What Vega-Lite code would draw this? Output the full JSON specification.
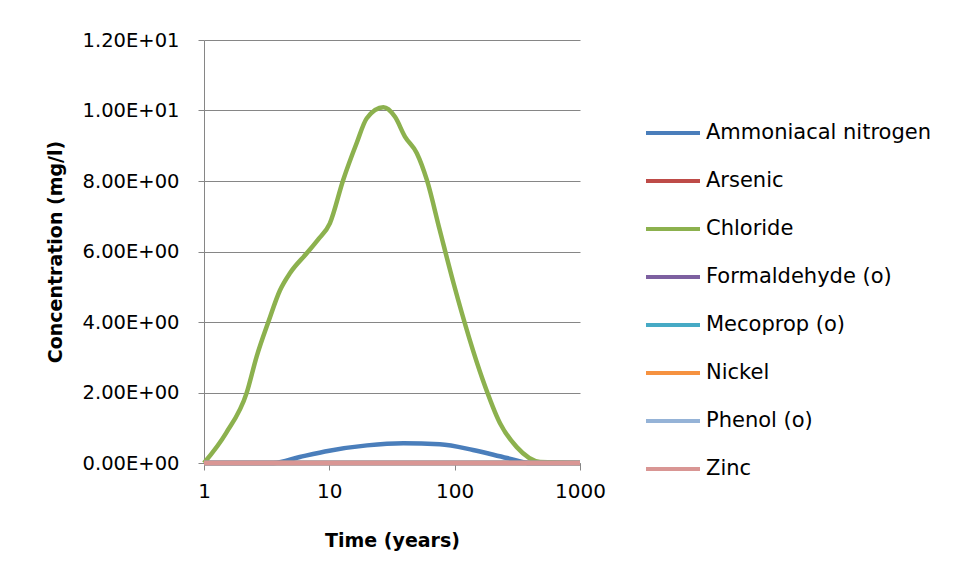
{
  "$schema": "https://vega.github.io/schema/vega-lite/v6.json",
  "width": 376,
  "height": 423,
  "autosize": {"type": "none"},
  "padding": {"left": 204, "top": 40, "right": 373, "bottom": 118},
  "background": "white",
  "config": {
    "font": "DejaVu Sans",
    "view": {"stroke": null},
    "axis": {"labelFont": "DejaVu Sans", "titleFont": "DejaVu Sans", "labelColor": "#000000", "titleColor": "#000000"}
  },
  "data": {
    "values": [
      {"series": "Ammoniacal nitrogen", "t": 1, "c": 0},
      {"series": "Ammoniacal nitrogen", "t": 3.6, "c": 0},
      {"series": "Ammoniacal nitrogen", "t": 5.8, "c": 0.17},
      {"series": "Ammoniacal nitrogen", "t": 10, "c": 0.35},
      {"series": "Ammoniacal nitrogen", "t": 20, "c": 0.5},
      {"series": "Ammoniacal nitrogen", "t": 39, "c": 0.56},
      {"series": "Ammoniacal nitrogen", "t": 76, "c": 0.53},
      {"series": "Ammoniacal nitrogen", "t": 140, "c": 0.37},
      {"series": "Ammoniacal nitrogen", "t": 262, "c": 0.14},
      {"series": "Ammoniacal nitrogen", "t": 400, "c": 0},
      {"series": "Ammoniacal nitrogen", "t": 1000, "c": 0},
      {"series": "Arsenic", "t": 1, "c": 0},
      {"series": "Arsenic", "t": 1000, "c": 0},
      {"series": "Chloride", "t": 1, "c": 0},
      {"series": "Chloride", "t": 1.5, "c": 0.85},
      {"series": "Chloride", "t": 2.19, "c": 1.99},
      {"series": "Chloride", "t": 2.63, "c": 3.02},
      {"series": "Chloride", "t": 3.26, "c": 4.0},
      {"series": "Chloride", "t": 4.04, "c": 4.9},
      {"series": "Chloride", "t": 4.86, "c": 5.39},
      {"series": "Chloride", "t": 6.6, "c": 5.95},
      {"series": "Chloride", "t": 8.1, "c": 6.33},
      {"series": "Chloride", "t": 10.1, "c": 6.8},
      {"series": "Chloride", "t": 12.9, "c": 8.03},
      {"series": "Chloride", "t": 16.5, "c": 9.07},
      {"series": "Chloride", "t": 19.9, "c": 9.78},
      {"series": "Chloride", "t": 27, "c": 10.09},
      {"series": "Chloride", "t": 33.4, "c": 9.82},
      {"series": "Chloride", "t": 40.1, "c": 9.26},
      {"series": "Chloride", "t": 49.9, "c": 8.79},
      {"series": "Chloride", "t": 60, "c": 8.03},
      {"series": "Chloride", "t": 76, "c": 6.61},
      {"series": "Chloride", "t": 98, "c": 5.1},
      {"series": "Chloride", "t": 168, "c": 2.35},
      {"series": "Chloride", "t": 230, "c": 1.13},
      {"series": "Chloride", "t": 313, "c": 0.45},
      {"series": "Chloride", "t": 480, "c": 0.03},
      {"series": "Chloride", "t": 1000, "c": 0},
      {"series": "Formaldehyde (o)", "t": 1, "c": 0},
      {"series": "Formaldehyde (o)", "t": 1000, "c": 0},
      {"series": "Mecoprop (o)", "t": 1, "c": 0},
      {"series": "Mecoprop (o)", "t": 1000, "c": 0},
      {"series": "Nickel", "t": 1, "c": 0},
      {"series": "Nickel", "t": 1000, "c": 0},
      {"series": "Phenol (o)", "t": 1, "c": 0},
      {"series": "Phenol (o)", "t": 1000, "c": 0},
      {"series": "Zinc", "t": 1, "c": 0},
      {"series": "Zinc", "t": 1000, "c": 0}
    ]
  },
  "mark": {"type": "line", "strokeWidth": 4.5, "interpolate": "monotone", "clip": false},
  "encoding": {
    "x": {
      "field": "t", "type": "quantitative",
      "scale": {"type": "log", "domain": [1, 1000], "nice": false},
      "axis": {
        "values": [1, 10, 100, 1000], "format": "d",
        "title": "Time (years)", "titleFontSize": 19, "titleFontWeight": "bold", "titlePadding": 30,
        "labelFontSize": 20, "labelPadding": 11, "labelFontWeight": "normal",
        "grid": false, "domainColor": "#868686", "tickColor": "#868686", "tickSize": 7,
        "labelFlush": false
      }
    },
    "y": {
      "field": "c", "type": "quantitative",
      "scale": {"domain": [0, 12], "nice": false},
      "axis": {
        "values": [0, 2, 4, 6, 8, 10, 12],
        "labelExpr": "format(datum.value == 0 ? 0 : datum.value / pow(10, floor(log(datum.value) / LN10 + 1e-9)), '.2f') + 'E+' + (datum.value < 10 ? '00' : '01')",
        "title": "Concentration (mg/l)", "titleFontSize": 19, "titleFontWeight": "bold", "titlePadding": 17,
        "labelFontSize": 19.5, "labelPadding": 19,
        "gridColor": "#868686", "gridWidth": 1, "domainColor": "#868686", "tickColor": "#868686", "tickSize": 6
      }
    },
    "color": {
      "field": "series", "type": "nominal",
      "scale": {
        "domain": ["Ammoniacal nitrogen", "Arsenic", "Chloride", "Formaldehyde (o)", "Mecoprop (o)", "Nickel", "Phenol (o)", "Zinc"],
        "range": ["#4A7EBB", "#BE4B48", "#8CB14E", "#7D60A0", "#46AAC5", "#F69240", "#95B3D7", "#D99694"]
      },
      "legend": {
        "title": null, "orient": "none", "legendX": 440, "legendY": 64,
        "symbolType": "stroke", "symbolStrokeWidth": 4, "symbolSize": 2916,
        "labelFontSize": 21, "labelFont": "DejaVu Sans", "labelColor": "#000000", "labelOffset": 4,
        "rowPadding": 9, "labelLimit": 400
      }
    }
  }
}
